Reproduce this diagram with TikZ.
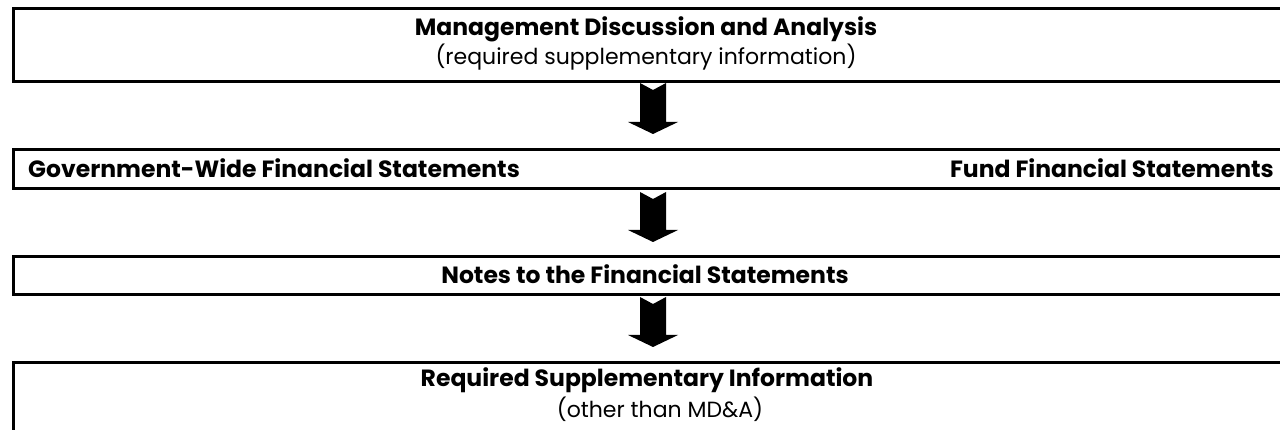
\documentclass[tikz,border=0pt]{standalone}
\usepackage{fontspec}
\setmainfont{Poppins}
\begin{document}
\begin{tikzpicture}[x=1pt,y=-1pt,
  box/.style={draw=black, line width=3pt, rectangle, anchor=north west, inner sep=0pt},
  title/.style={font=\fontsize{23.5}{26}\selectfont\bfseries, inner sep=0pt},
  sub/.style={font=\fontsize{22}{26}\selectfont, inner sep=0pt},
  blockarrow/.style={fill=black, draw=none}]
\useasboundingbox (0,0) rectangle (1280,430);
\clip (0,0) rectangle (1280,430);
% boxes
\node[box, minimum width=1300pt, minimum height=72.5pt] (mda) at (12,7.5) {};
\node[box, minimum width=1300pt, minimum height=39pt] (fs) at (12,148) {};
\node[box, minimum width=1300pt, minimum height=38pt] (notes) at (12,255) {};
\node[box, minimum width=1300pt, minimum height=100pt] (rsi) at (12,361) {};
% texts
\node[title] (t1) at (646,29) {Management Discussion and Analysis};
\node[sub] (t1b) at (646,57) {(required supplementary information)};
\node[title, anchor=west] (gw) at (28,168) {Government-Wide Financial Statements};
\node[title, anchor=east] (fund) at (1274,168) {Fund Financial Statements};
\node[title] (t3) at (645,274) {Notes to the Financial Statements};
\node[title] (t4) at (647,380) {Required Supplementary Information};
\node[sub] (t4b) at (660,409) {(other than MD\&A)};
% arrow anchors
\coordinate (a1s) at (653,83);  \coordinate (a1e) at (653,134);
\coordinate (a2s) at (653,192); \coordinate (a2e) at (653,242);
\coordinate (a3s) at (653,297); \coordinate (a3e) at (653,347);
\foreach \s/\e in {a1s/a1e, a2s/a2e, a3s/a3e}{
  \fill[blockarrow] ([xshift=-13pt]\s) -- ([yshift=-7pt]\s) -- ([xshift=13pt]\s)
    -- ([xshift=13pt,yshift=12pt]\e) -- ([xshift=25pt,yshift=12pt]\e) -- (\e)
    -- ([xshift=-25pt,yshift=12pt]\e) -- ([xshift=-13pt,yshift=12pt]\e) -- cycle;
}
\end{tikzpicture}
\end{document}
